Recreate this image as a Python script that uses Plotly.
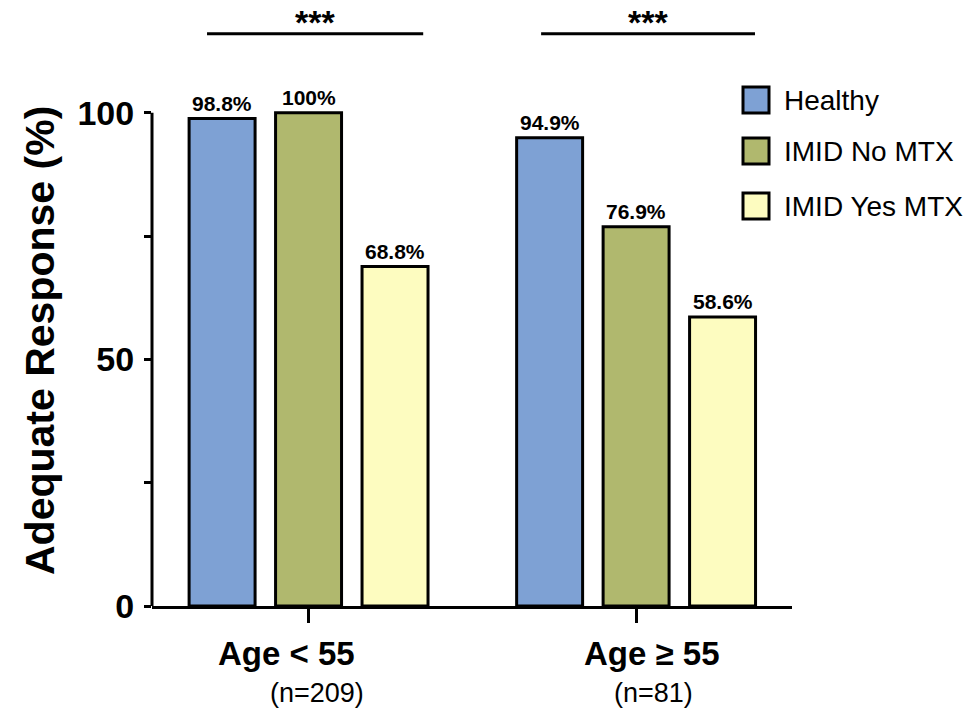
import plotly.graph_objects as go

# ---- data ----
categories = ["Age < 55", "Age ≥ 55"]
sample_sizes = ["(n=209)", "(n=81)"]
series_names = ["Healthy", "IMID No MTX", "IMID Yes MTX"]
healthy = [98.8, 94.9]
imid_no_mtx = [100.0, 76.9]
imid_yes_mtx = [68.8, 58.6]
value_labels = [["98.8%", "94.9%"], ["100%", "76.9%"], ["68.8%", "58.6%"]]
significance = ["***", "***"]
y_tick_vals = [0, 25, 50, 75, 100]
y_tick_text = ["0", "", "50", "", "100"]
y_title = "Adequate Response (%)"

series_values = [healthy, imid_no_mtx, imid_yes_mtx]
colors = ["#7EA1D4", "#B0B86E", "#FDFCC0"]

FONT = "Liberation Sans, Arial, Helvetica, sans-serif"
BOLD = "Liberation Sans, Arial, sans-serif"

W, H = 968, 711
ML, MR, MT, MB = 152, 176, 14, 105
YMAX = 120
XR = [-0.478, 1.476]
bargap = 0.208
bargroupgap = 0.237
slot = (1 - bargap) / 3

fig = go.Figure()
for name, vals, col in zip(series_names, series_values, colors):
    fig.add_trace(go.Bar(
        x=categories, y=vals, name=name,
        marker=dict(color=col, line=dict(color="black", width=3)),
        showlegend=False,
    ))

annotations = []
shapes = []

pw = W - ML - MR
ph = H - MT - MB
def px_to_paper_x(px):
    return (px - ML) / pw
def px_to_paper_y(py):
    return (H - MB - py) / ph

# value labels above bars
for i, (vals, labs) in enumerate(zip(series_values, value_labels)):
    for g, (v, lab) in enumerate(zip(vals, labs)):
        annotations.append(dict(
            x=g + (i - 1) * slot, y=v, xref="x", yref="y",
            text="<b>%s</b>" % lab, showarrow=False,
            xanchor="center", yanchor="bottom", yshift=2,
            font=dict(family=BOLD, size=21, color="black"),
        ))

# category labels
cat_shift = [-22, 16]
n_shift = [8, 17]
for g, (cat, n) in enumerate(zip(categories, sample_sizes)):
    annotations.append(dict(
        x=g, y=0, xref="x", yref="paper", text="<b>%s</b>" % cat,
        showarrow=False, xanchor="center", yanchor="middle",
        xshift=cat_shift[g], yshift=-47,
        font=dict(family=BOLD, size=33, color="black"),
    ))
    annotations.append(dict(
        x=g, y=0, xref="x", yref="paper", text=n,
        showarrow=False, xanchor="center", yanchor="middle",
        xshift=n_shift[g], yshift=-87,
        font=dict(family=FONT, size=27, color="black"),
    ))

# y-axis title
annotations.append(dict(
    x=px_to_paper_x(40), y=px_to_paper_y(341), xref="paper", yref="paper",
    text="<b>%s</b>" % y_title, textangle=-90, showarrow=False,
    xanchor="center", yanchor="middle",
    font=dict(family=BOLD, size=41, color="black"),
))

# significance brackets
bracket_x = [(-0.31, 0.35), (0.71, 1.363)]
star_x = [0.02, 1.037]
for (x0, x1), sx, sig in zip(bracket_x, star_x, significance):
    shapes.append(dict(type="line", xref="x", yref="y", x0=x0, x1=x1,
                       y0=116.0, y1=116.0, line=dict(color="black", width=3)))
    annotations.append(dict(
        x=sx, y=118.4, xref="x", yref="y", text="<b>%s</b>" % sig,
        showarrow=False, xanchor="center", yanchor="middle",
        font=dict(family=BOLD, size=34, color="black"),
    ))

# y axis line (only up to 100)
shapes.append(dict(type="line", xref="paper", yref="y", x0=0, x1=0, y0=0, y1=100,
                   line=dict(color="black", width=3)))

# legend (drawn manually for large swatches)
row_centers = [100, 151, 206]
for name, col, cy in zip(series_names, colors, row_centers):
    shapes.append(dict(type="rect", xref="paper", yref="paper",
                       x0=px_to_paper_x(743), x1=px_to_paper_x(769),
                       y0=px_to_paper_y(cy + 13), y1=px_to_paper_y(cy - 13),
                       fillcolor=col, line=dict(color="black", width=3)))
    annotations.append(dict(
        x=px_to_paper_x(782), y=px_to_paper_y(cy), xref="paper", yref="paper",
        text=name, showarrow=False, xanchor="left", yanchor="middle",
        font=dict(family=FONT, size=28, color="black"),
    ))

fig.update_layout(
    width=W, height=H,
    margin=dict(l=ML, r=MR, t=MT, b=MB, pad=0),
    plot_bgcolor="white", paper_bgcolor="white",
    barmode="group", bargap=bargap, bargroupgap=bargroupgap,
    annotations=annotations, shapes=shapes,
    showlegend=False,
    xaxis=dict(
        range=XR, showline=True, linecolor="black", linewidth=3,
        ticks="outside", ticklen=14, tickwidth=3, tickcolor="black",
        showticklabels=False, showgrid=False, zeroline=False,
    ),
    yaxis=dict(
        range=[0, YMAX], showline=False, showgrid=False, zeroline=False,
        tickmode="array", tickvals=y_tick_vals, ticktext=y_tick_text,
        ticks="outside", ticklen=7, tickwidth=3, tickcolor="black",
        ticklabelstandoff=3,
        tickfont=dict(family=BOLD, size=34, color="black", weight="bold"),
    ),
)

fig.write_html("out.html",
               config={"displayModeBar": False},
               post_script="document.body.style.margin='0';document.body.style.overflow='hidden';")
